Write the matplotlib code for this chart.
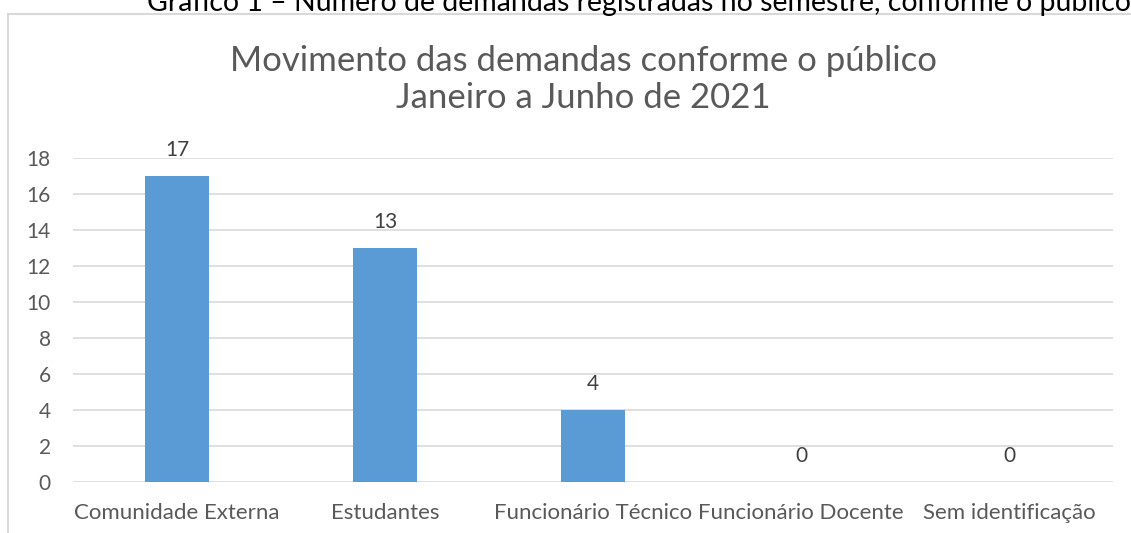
import matplotlib.pyplot as plt
from matplotlib.lines import Line2D

categories = ['Comunidade Externa', 'Estudantes', 'Funcionário Técnico',
              'Funcionário Docente', 'Sem identificação']
values = [17, 13, 4, 0, 0]
yticks = [0, 2, 4, 6, 8, 10, 12, 14, 16, 18]

title_lines = ['Movimento das demandas conforme o público', 'Janeiro a Junho de 2021']
caption = 'Gráfico 1 – Número de demandas registradas no semestre, conforme o público'

plt.rcParams['font.family'] = ['Lato', 'DejaVu Sans']

W, H = 1131, 533
fig = plt.figure(figsize=(W / 100, H / 100), dpi=100)
ax = fig.add_axes([73 / W, 51 / H, 1040 / W, 324 / H])

x = range(len(categories))
ax.bar(x, values, width=0.31, color='#5b9bd5', zorder=3)

# value labels above bars
for xi, v in zip(x, values):
    ax.text(xi, v + 0.9, str(v), ha='center', va='bottom',
            fontsize=15, color='#404040')

ax.set_xlim(-0.5, len(categories) - 0.5)
ax.set_ylim(0, 18)
ax.set_yticks(yticks)
ax.set_xticks(list(x))
ax.set_xticklabels(categories)
ax.tick_params(axis='both', length=0, labelcolor='#595959')
ax.tick_params(axis='x', pad=15, labelsize=16)
ax.tick_params(axis='y', pad=16, labelsize=15)
ax.grid(axis='y', color='#d9d9d9', linewidth=1.2, zorder=0)
for s in ax.spines.values():
    s.set_visible(False)

# title, two lines
fig.text(583 / W, 1 - 71 / H, title_lines[0], ha='center', va='baseline',
         fontsize=25, color='#595959')
fig.text(583 / W, 1 - 108 / H, title_lines[1], ha='center', va='baseline',
         fontsize=25, color='#595959')

# chart frame (left and top edges visible)
frame_col = '#d9d9d9'
fig.add_artist(Line2D([8 / W, 8 / W], [0, 1 - 14 / H],
                      transform=fig.transFigure, color=frame_col, lw=1.5))
fig.add_artist(Line2D([8 / W, 1], [1 - 14 / H, 1 - 14 / H],
                      transform=fig.transFigure, color=frame_col, lw=1.5))

fig.text(147 / W, 1 - 11 / H, caption,
         ha='left', va='baseline', fontsize=20.5, color='black')

fig.savefig('out.png', dpi=100)
